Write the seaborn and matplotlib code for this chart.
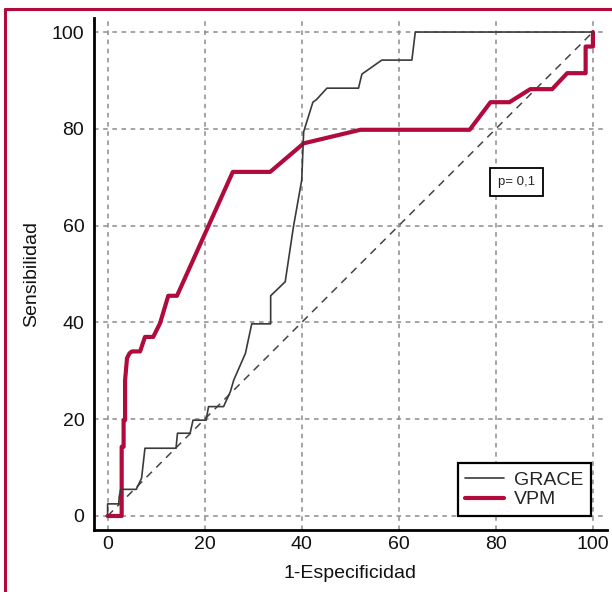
import pandas as pd
import seaborn as sns
import matplotlib.pyplot as plt
from matplotlib.lines import Line2D
from matplotlib.ticker import MultipleLocator

# Curvas ROC (1-Especificidad, Sensibilidad)
grace_x = [0, 0, 2.3, 2.4, 2.7, 5.9, 7.0, 7.7, 14.1, 14.4, 17.0, 17.6, 20.3, 20.8,
           23.9, 25.3, 26.0, 28.4, 29.7, 33.6, 33.6, 36.6, 38.3, 40.0, 40.4, 42.3,
           43.0, 45.2, 51.7, 52.4, 56.5, 62.7, 63.4, 100]
grace_y = [0, 2.5, 2.5, 4.0, 5.5, 5.5, 7.8, 14.0, 14.0, 17.1, 17.1, 19.8, 19.8, 22.6,
           22.6, 25.7, 28.1, 33.6, 39.7, 39.7, 45.5, 48.4, 59.8, 69.4, 79.4, 85.5,
           86.0, 88.4, 88.4, 91.3, 94.2, 94.2, 100, 100]

vpm_x = [0, 2.9, 2.9, 3.3, 3.3, 3.6, 3.6, 4.0, 4.5, 5.0, 6.7, 7.7, 9.4, 10.8, 12.5,
         14.3, 25.8, 33.5, 40.4, 52.1, 74.6, 78.9, 82.8, 87.1, 91.6, 94.7, 98.5,
         98.5, 100, 100]
vpm_y = [0, 0, 14.3, 14.3, 19.8, 19.8, 28.0, 32.6, 33.6, 34.0, 34.0, 37.0, 37.0, 39.8,
         45.5, 45.5, 71.1, 71.1, 77.0, 79.8, 79.8, 85.5, 85.5, 88.2, 88.2, 91.5, 91.5,
         97.0, 97.0, 100]

diag = [0, 100]
p_text = 'p= 0,1'

RED = '#b00b3c'

sns.set_style("white")
plt.rcParams['font.family'] = ['Liberation Sans', 'DejaVu Sans']

fig = plt.figure(figsize=(6.12, 5.92), dpi=100)
ax = fig.add_axes([0.1536, 0.1047, 0.8382, 0.8649])

# diagonal de referencia
sns.lineplot(x=diag, y=diag, ax=ax, color='#444444', linewidth=1.1,
             linestyle=(0, (5, 4)), zorder=2)
sns.lineplot(x=vpm_x, y=vpm_y, ax=ax, sort=False, estimator=None, color=RED,
             linewidth=3, label='VPM', zorder=3)
sns.lineplot(x=grace_x, y=grace_y, ax=ax, sort=False, estimator=None, color='#3a3a3a',
             linewidth=1.2, label='GRACE', zorder=4)

ax.set_xlim(-2.8, 102.9)
ax.set_ylim(-2.9, 102.9)
for axis in (ax.xaxis, ax.yaxis):
    axis.set_major_locator(MultipleLocator(20))
    axis.set_minor_locator(MultipleLocator(5))

ax.set_axisbelow(True)
ax.grid(True, which='major', color='#8c8c8c', linestyle=(0, (3, 3)), linewidth=1.1)

for s in ('top', 'right'):
    ax.spines[s].set_visible(False)
for s in ('left', 'bottom'):
    ax.spines[s].set_linewidth(2)
    ax.spines[s].set_color('black')

ax.tick_params(which='major', direction='in', length=9.5, width=1.6, color='black',
               labelsize=14, labelcolor='#111111')
ax.tick_params(axis='y', which='major', pad=7)
ax.tick_params(axis='x', which='major', pad=4)
ax.tick_params(which='minor', direction='in', length=4, width=1.5, color='black')

ax.set_xlabel('1-Especificidad', fontsize=14, labelpad=9, color='#111111')
ax.set_ylabel('Sensibilidad', fontsize=14, labelpad=8, color='#111111')

handles, labels = ax.get_legend_handles_labels()
order = [labels.index('GRACE'), labels.index('VPM')]
leg = ax.legend([handles[i] for i in order], [labels[i] for i in order],
                loc='lower right', bbox_to_anchor=(0.969, 0.027), frameon=True,
                fancybox=False, edgecolor='black', framealpha=1, fontsize=14,
                handlelength=2.0, handletextpad=0.5, borderaxespad=0,
                borderpad=0.4, labelspacing=0.1)
leg.get_frame().set_linewidth(1.6)

ax.text(84.2, 69.0, p_text, fontsize=9.5, ha='center', va='center',
        bbox=dict(boxstyle='square,pad=0.6', fc='white', ec='black', lw=1.3))

# marco rojo de la figura (izquierda y arriba)
fig.add_artist(Line2D([0.0082, 0.0082], [0, 0.9848], color=RED, linewidth=2.2,
                      transform=fig.transFigure))
fig.add_artist(Line2D([0.0082, 1], [0.9848, 0.9848], color=RED, linewidth=2.2,
                      transform=fig.transFigure))

fig.savefig('out.png', dpi=100)
